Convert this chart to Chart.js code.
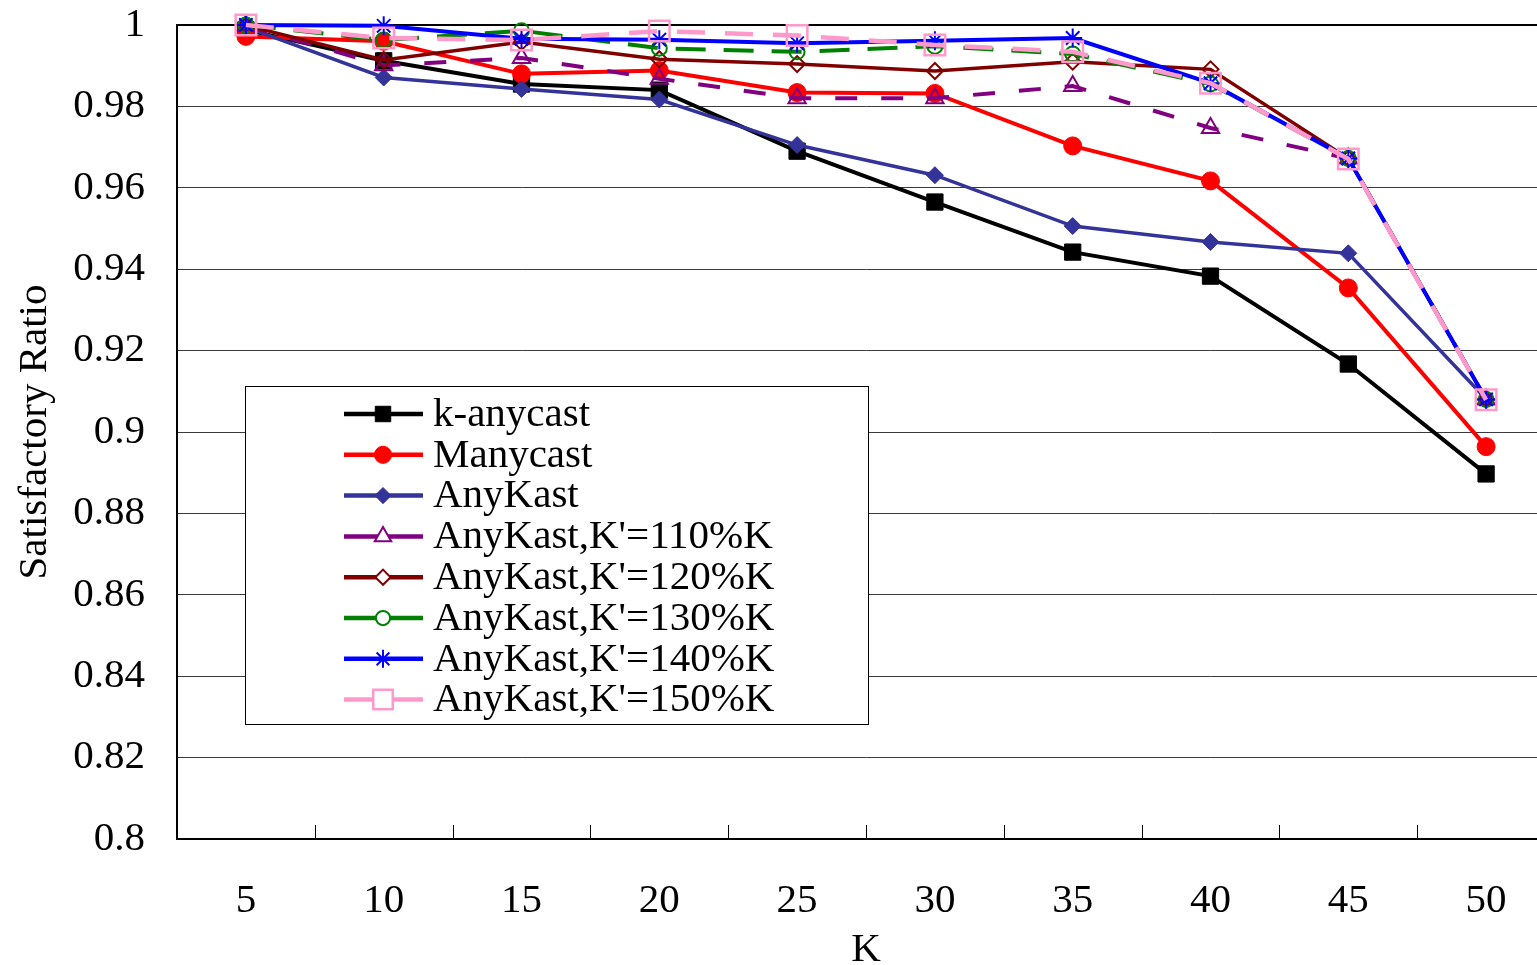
<!DOCTYPE html>
<html>
<head>
<meta charset="utf-8">
<title>Satisfactory Ratio vs K</title>
<style>
  html, body { margin: 0; padding: 0; background: #ffffff; overflow: hidden; }
  #wrap { position: absolute; left: 0; top: 0; width: 1572px; height: 965px; }
  #chart { display: block; width: 1572px; height: 965px; }
</style>
<script src="https://cdn.jsdelivr.net/npm/chart.js@4.4.1/dist/chart.umd.min.js"></script>
</head>
<body>
<div id="wrap"><canvas id="chart" width="1572" height="965"></canvas></div>
<script>
// ---- data ----
const kValues = ['5', '10', '15', '20', '25', '30', '35', '40', '45', '50'];

const kAnycast   = [0.9988, 0.9912, 0.9855, 0.9840, 0.9690, 0.9565, 0.9442, 0.9383, 0.9167, 0.8897];
const manycast   = [0.9972, 0.9960, 0.9880, 0.9888, 0.9834, 0.9832, 0.9703, 0.9617, 0.9354, 0.8964];
const anyKast    = [0.9995, 0.9871, 0.9843, 0.9817, 0.9705, 0.9631, 0.9506, 0.9467, 0.9439, 0.9081];
const anyKast110 = [0.9998, 0.9901, 0.9919, 0.9868, 0.9820, 0.9820, 0.9850, 0.9747, 0.9672, 0.9080];
const anyKast120 = [0.9999, 0.9914, 0.9958, 0.9916, 0.9904, 0.9887, 0.9910, 0.9891, 0.9672, 0.9080];
const anyKast130 = [1.0000, 0.9963, 0.9986, 0.9943, 0.9934, 0.9948, 0.9929, 0.9855, 0.9672, 0.9080];
const anyKast140 = [1.0000, 0.9998, 0.9966, 0.9964, 0.9955, 0.9961, 0.9968, 0.9857, 0.9672, 0.9080];
const anyKast150 = [1.0000, 0.9968, 0.9963, 0.9985, 0.9974, 0.9951, 0.9934, 0.9857, 0.9671, 0.9079];

const seriesNames = ['k-anycast', 'Manycast', 'AnyKast', "AnyKast,K'=110%K", "AnyKast,K'=120%K",
                     "AnyKast,K'=130%K", "AnyKast,K'=140%K", "AnyKast,K'=150%K"];
const seriesValues = [kAnycast, manycast, anyKast, anyKast110, anyKast120, anyKast130, anyKast140, anyKast150];

const yTickLabels = ['0.8', '0.82', '0.84', '0.86', '0.88', '0.9', '0.92', '0.94', '0.96', '0.98', '1'];
const yMin = 0.8, yMax = 1.0, yStep = 0.02;

// ---- styles ----
const FONT_FAMILY = '"Liberation Serif", "Times New Roman", Times, serif';
const FONT_SIZE = 41;
const NONE = 'rgba(0,0,0,0)';
const seriesStyles = [
  { color: '#000000', width: 4,   dash: [],       point: 'rect',     radius: 11.5, fill: '#000000', pbw: 1 },
  { color: '#ff0000', width: 4,   dash: [],       point: 'circle',   radius: 9,    fill: '#ff0000', pbw: 1 },
  { color: '#333399', width: 3.5, dash: [],       point: 'rectRot',  radius: 8.5,  fill: '#333399', pbw: 1 },
  { color: '#800080', width: 4,   dash: [22, 24], point: 'triangle', radius: 10,   fill: NONE,      pbw: 2 },
  { color: '#800000', width: 3.5, dash: [],       point: 'rectRot',  radius: 8,    fill: NONE,      pbw: 2 },
  { color: '#008000', width: 4,   dash: [30, 18], point: 'circle',   radius: 7.5,  fill: NONE,      pbw: 2 },
  { color: '#0000ff', width: 4,   dash: [],       point: 'star',     radius: 9.5,  fill: NONE,      pbw: 2 },
  { color: '#ff99cc', width: 4.5, dash: [28, 20], point: 'rect',     radius: 14.5, fill: NONE,      pbw: 2.5 }
];

const datasets = seriesNames.map((name, i) => {
  const s = seriesStyles[i];
  return {
    label: name,
    data: seriesValues[i],
    borderColor: s.color,
    borderWidth: s.width,
    borderDash: s.dash,
    backgroundColor: s.color,
    pointStyle: s.point,
    pointRadius: s.radius,
    pointHoverRadius: s.radius,
    pointBackgroundColor: s.fill,
    pointBorderColor: s.color,
    pointBorderWidth: s.pbw,
    tension: 0,
    fill: false,
    clip: false,
    // later series are painted over earlier ones
    order: seriesNames.length - i
  };
});

// small tick marks standing up from the x axis between categories
const innerXTicks = {
  id: 'innerXTicks',
  beforeDatasetsDraw(chart) {
    const { ctx, chartArea } = chart;
    const xs = chart.scales.x;
    const half = (xs.getPixelForValue(1) - xs.getPixelForValue(0)) / 2;
    ctx.save();
    ctx.strokeStyle = '#000000';
    ctx.lineWidth = 1;
    ctx.beginPath();
    for (let i = 0; i < kValues.length; i++) {
      const px = Math.round(xs.getPixelForValue(i) + half) + 0.5;
      ctx.moveTo(px, chartArea.bottom);
      ctx.lineTo(px, chartArea.bottom - 14);
    }
    ctx.stroke();
    ctx.restore();
  }
};

// boxed legend inside the plot area
const boxedLegend = {
  id: 'boxedLegend',
  afterDraw(chart) {
    const { ctx } = chart;
    const box = { left: 245.5, top: 386.5, right: 868.5, bottom: 724.5 };
    const firstRow = 414, rowGap = 40.8;
    const lineX0 = 344, lineX1 = 423, markX = 383, textX = 433;
    ctx.save();
    ctx.fillStyle = '#ffffff';
    ctx.fillRect(box.left, box.top, box.right - box.left, box.bottom - box.top);
    ctx.strokeStyle = '#000000';
    ctx.lineWidth = 1;
    ctx.strokeRect(box.left, box.top, box.right - box.left, box.bottom - box.top);

    seriesNames.forEach((name, i) => {
      const s = seriesStyles[i];
      const y = firstRow + i * rowGap;
      ctx.setLineDash([]);
      ctx.strokeStyle = s.color;
      ctx.lineWidth = 4.5;
      ctx.beginPath();
      ctx.moveTo(lineX0, y);
      ctx.lineTo(lineX1, y);
      ctx.stroke();

      ctx.fillStyle = s.fill === NONE ? '#ffffff' : s.fill;
      ctx.strokeStyle = s.color;
      ctx.lineWidth = s.pbw;
      Chart.helpers.drawPoint(ctx, {
        pointStyle: s.point,
        radius: s.radius * 0.95,
        rotation: 0,
        borderWidth: s.pbw
      }, markX, y);

      ctx.fillStyle = '#000000';
      ctx.font = FONT_SIZE + 'px ' + FONT_FAMILY;
      ctx.textAlign = 'left';
      ctx.textBaseline = 'middle';
      ctx.fillText(name, textX, y + 1);
    });
    ctx.restore();
  }
};

new Chart(document.getElementById('chart'), {
  type: 'line',
  data: { labels: kValues, datasets },
  options: {
    responsive: false,
    animation: false,
    events: [],
    layout: { padding: { top: 25, right: 2, left: 0, bottom: 0 } },
    plugins: {
      legend: { display: false },
      tooltip: { enabled: false },
      title: { display: false }
    },
    scales: {
      x: {
        type: 'category',
        offset: true,
        grid: { display: true, drawOnChartArea: false, drawTicks: false },
        border: { display: true, color: '#000000', width: 2 },
        ticks: {
          color: '#000000',
          font: { family: FONT_FAMILY, size: FONT_SIZE, lineHeight: 1 },
          padding: 42,
          maxRotation: 0,
          autoSkip: false
        },
        title: {
          display: true,
          text: 'K',
          color: '#000000',
          font: { family: FONT_FAMILY, size: FONT_SIZE, lineHeight: 1 },
          padding: { top: 0, bottom: -5.5 }
        },
        afterFit(scale) {
          scale.height = 126;
          scale.paddingLeft = 0;
          scale.paddingRight = 0;
        }
      },
      y: {
        type: 'linear',
        min: yMin,
        max: yMax,
        grid: {
          drawTicks: false,
          color: (c) => (c.tick && c.tick.value > 0.9999 ? '#000000' : '#3a3a3a'),
          lineWidth: (c) => (c.tick && c.tick.value > 0.9999 ? 2 : 1)
        },
        border: { display: true, color: '#000000', width: 2 },
        ticks: {
          stepSize: yStep,
          color: '#000000',
          font: { family: FONT_FAMILY, size: FONT_SIZE, lineHeight: 1 },
          padding: 32,
          callback: (value, index) => yTickLabels[index] !== undefined ? yTickLabels[index] : String(value)
        },
        title: {
          display: true,
          text: 'Satisfactory Ratio',
          color: '#000000',
          font: { family: FONT_FAMILY, size: FONT_SIZE, lineHeight: 1 },
          padding: { top: 15, bottom: 0 }
        },
        afterFit(scale) {
          scale.width = 177;
          scale.paddingTop = 0;
          scale.paddingBottom = 0;
        }
      }
    }
  },
  plugins: [innerXTicks, boxedLegend]
});
</script>
</body>
</html>
